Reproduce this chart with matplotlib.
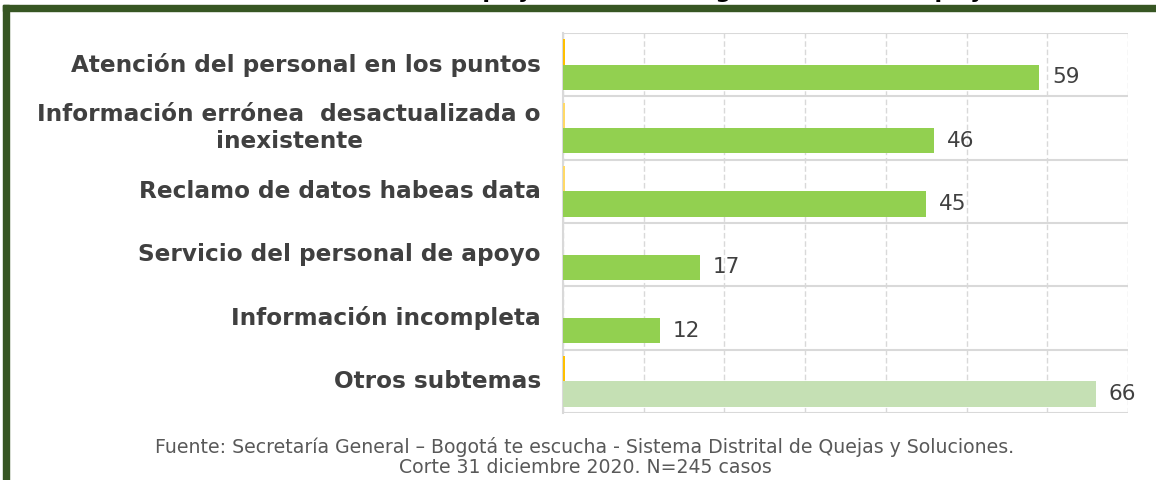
import matplotlib.pyplot as plt
from matplotlib.patches import Rectangle
import numpy as np

# Data
categories = [
    "Atención del personal en los puntos",
    "Información errónea  desactualizada o\ninexistente",
    "Reclamo de datos habeas data",
    "Servicio del personal de apoyo",
    "Información incompleta",
    "Otros subtemas",
]
values = [59, 46, 45, 17, 12, 66]
small_values = [0.25, 0.2, 0.2, 0, 0, 0.25]

bar_colors = ['#92D050', '#92D050', '#92D050', '#92D050', '#92D050', '#C5E0B4']
small_colors = ['#FFC000', '#FFD966', '#FFD966', '#FFC000', '#FFC000', '#FFC000']

title = "Gráfica 12. Número de quejas recibidas según subtema de queja"
footer = ("Fuente: Secretaría General – Bogotá te escucha - Sistema Distrital de Quejas y Soluciones.\n"
          "Corte 31 diciembre 2020. N=245 casos")

fig = plt.figure(figsize=(11.56, 4.8), dpi=100)
ax = fig.add_axes([563 / 1156, 1 - 413 / 480, 565 / 1156, 380 / 480])

y = np.arange(len(categories))
h = 0.4
ax.barh(y - 0.2, small_values, height=h, color=small_colors, zorder=3)
ax.barh(y + 0.2, values, height=h, color=bar_colors, zorder=3)

for yi, v in zip(y, values):
    ax.text(v + 1.6, yi + 0.2, str(v), va='center', ha='left',
            fontsize=15.5, color='#404040')

ax.set_xlim(0, 70)
ax.set_ylim(len(categories) - 0.5, -0.5)
ax.set_xticks(np.arange(0, 71, 10))
ax.set_xticklabels([])
ax.set_yticks(y)
ax.set_yticklabels(categories, fontsize=16.7, fontweight='bold', color='#404040',
                   multialignment='center', linespacing=1.25, va='center')
ax.set_yticks(np.arange(-0.5, len(categories), 1), minor=True)
ax.tick_params(axis='both', which='both', length=0)
ax.tick_params(axis='y', pad=16)

ax.grid(axis='x', which='major', color='#D9D9D9', linestyle=(0, (4, 2)), linewidth=1, zorder=0)
ax.grid(axis='y', which='minor', color='#D9D9D9', linestyle='-', linewidth=1.5, zorder=0)
for side in ['top', 'right', 'bottom']:
    ax.spines[side].set_visible(False)
ax.spines['left'].set_color('#D9D9D9')
ax.spines['left'].set_linewidth(1.5)

# title (cut by the frame at the top, as in the original)
fig.text(0.51, 1 + 2 / 480, title, ha='center', va='baseline', fontsize=16,
         fontweight='bold', color='black')

# frame
fig.patches.append(Rectangle((3 / 1156, 1 - 11 / 480), 1, 6 / 480,
                             transform=fig.transFigure, color='#375623'))
fig.patches.append(Rectangle((3 / 1156, 0), 6 / 1156, 1 - 5 / 480,
                             transform=fig.transFigure, color='#375623'))

fig.text(585 / 1156, 1 - 457 / 480, footer, ha='center', va='center', fontsize=13.6,
         color='#595959', linespacing=1.1)

fig.savefig("out.png", dpi=100)
